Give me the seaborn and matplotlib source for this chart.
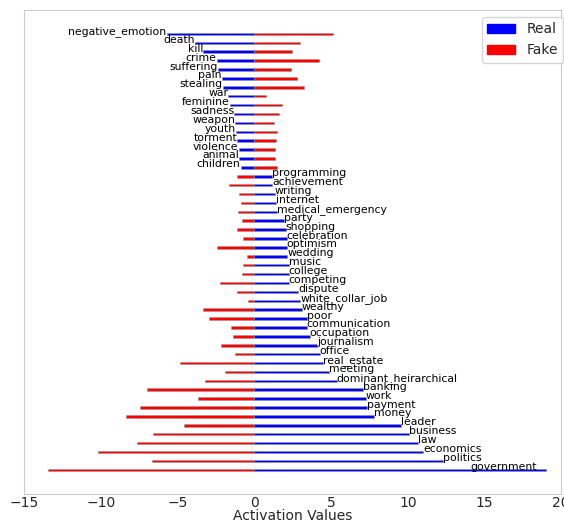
import pandas as pd
import matplotlib
matplotlib.use('Agg')
import matplotlib.pyplot as plt
import matplotlib.patches as mpatches
import seaborn as sns

# ── Data ───────────────────────────────────────────────
categories = [
    'negative_emotion', 'death', 'kill', 'crime', 'suffering', 'pain', 'stealing',
    'war', 'feminine', 'sadness', 'weapon', 'youth', 'torment', 'violence',
    'animal', 'children',
    'programming', 'achievement', 'writing', 'internet', 'medical_emergency',
    'party', 'shopping', 'celebration', 'optimism', 'wedding', 'music', 'college',
    'competing', 'dispute', 'white_collar_job', 'wealthy', 'poor', 'communication',
    'occupation', 'journalism', 'office', 'real_estate', 'meeting',
    'dominant_heirarchical', 'banking', 'work', 'payment', 'money', 'leader',
    'business', 'law', 'economics', 'politics', 'government',
]
real_vals = [
    -5.72, -3.88, -3.33, -2.46, -2.36, -2.14, -2.07, -1.71, -1.60, -1.31, -1.25,
    -1.20, -1.10, -1.03, -0.99, -0.90,
    1.12, 1.18, 1.33, 1.40, 1.49, 1.92, 2.05, 2.10, 2.10, 2.14, 2.23, 2.23, 2.23,
    2.85, 3.00, 3.08, 3.40, 3.40, 3.61, 4.10, 4.27, 4.50, 4.87, 5.37, 7.08, 7.27,
    7.31, 7.78, 9.54, 10.05, 10.66, 10.99, 12.30, 19.03,
]
fake_vals = [
    5.10, 3.00, 2.46, 4.20, 2.42, 2.75, 3.25, 0.79, 1.77, 1.60, 1.29, 1.45, 1.38,
    1.34, 1.34, 1.45,
    -1.16, -1.64, -0.99, -0.90, -1.05, -0.81, -1.16, -0.73, -2.42, -0.51, -0.77,
    -0.81, -2.25, -1.16, -0.40, -3.32, -2.95, -1.55, -1.41, -2.20, -1.27, -4.83,
    -1.90, -3.23, -6.98, -3.70, -7.45, -8.39, -4.57, -6.63, -7.64, -10.22, -6.66,
    -13.43,
]

df = pd.DataFrame({'category': categories, 'Real': real_vals, 'Fake': fake_vals})

sns.set_style('white', {'axes.edgecolor': '.8'})

fig = plt.figure(figsize=(5.64, 5.22), dpi=100)
ax = fig.add_axes([0.043, 0.054, 0.952, 0.927])

sns.barplot(data=df, y='category', x='Fake', order=categories, color='red',
            saturation=1, width=0.28, edgecolor='0.6', linewidth=0.4, ax=ax)
sns.barplot(data=df, y='category', x='Real', order=categories, color='blue',
            saturation=1, width=0.28, edgecolor='0.6', linewidth=0.4, ax=ax)

# category labels at the end of the Real bar (kept inside the axes)
label_max = 14.1
for i, (name, v) in enumerate(zip(categories, real_vals)):
    ha = 'right' if v < 0 else 'left'
    ax.text(min(v, label_max), i, name, ha=ha, va='baseline', fontsize=7.8,
            color='black')

ax.set_xlim(-15, 20)
ax.set_ylim(51.7, -2.7)
ax.set_yticks([])
ax.set_ylabel('')
ax.set_xlabel('Activation Values', fontsize=10, labelpad=-1)
ax.tick_params(axis='x', labelsize=10, length=0, pad=1.5)
for s in ax.spines.values():
    s.set_linewidth(0.8)

handles = [mpatches.Patch(color='blue', label='Real'),
           mpatches.Patch(color='red', label='Fake')]
ax.legend(handles=handles, loc='upper right', fontsize=10, frameon=True,
          bbox_to_anchor=(1.017, 1.0))

plt.savefig('out.png', dpi=100)
